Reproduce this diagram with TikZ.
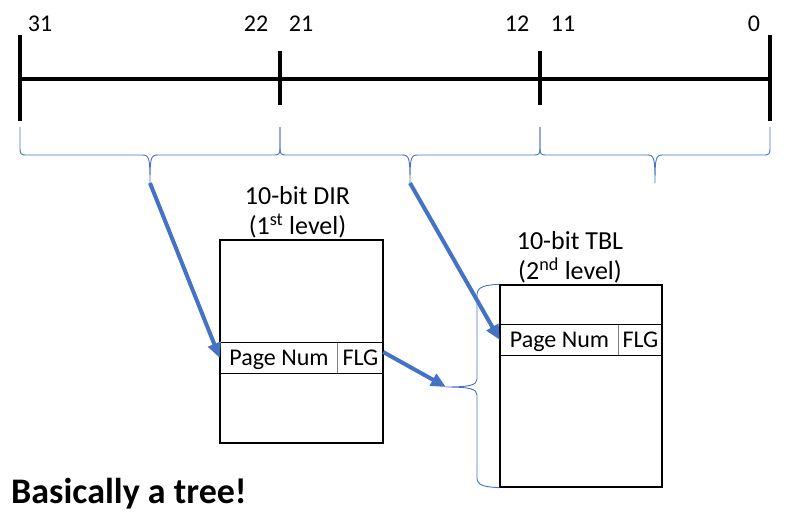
\documentclass[tikz,border=0pt]{standalone}
\usepackage{fontspec}
\setmainfont{Carlito}
\usepackage{xcolor}
\usepackage{tikz}
\usetikzlibrary{calc,arrows.meta}
\definecolor{ink}{HTML}{000000}
\definecolor{blue}{HTML}{4472C4}
\definecolor{grid}{HTML}{7F7F7F}
\tikzset{
  axis/.style={draw=ink, line width=3.5pt},
  brace/.style={draw=blue, line width=0.9pt, line join=round},
  ptr/.style={draw=blue, line width=4pt, -{Triangle[length=15pt,width=13pt]}},
  frame/.style={draw=ink, line width=1.3pt, inner sep=0pt},
  divider/.style={draw=grid, line width=1.3pt},
  cell/.style={inner sep=0pt, minimum height=30pt, text height=15pt, text depth=0pt, font=\fontsize{24}{27}\selectfont},
  bit/.style={anchor=base, inner sep=0pt, font=\fontsize{24}{27}\selectfont},
  title/.style={anchor=south, align=center, inner sep=0pt, font=\fontsize{26}{30}\selectfont},
}

\begin{document}
\begin{tikzpicture}[x=1pt,y=-1pt]
  \useasboundingbox (0,0) rectangle (787,512);
  % address bits
  \draw[axis] (20,79) -- (770,79);
  \draw[axis] (20,35) -- (20,121);
  \draw[axis] (770,35) -- (770,121);
  \draw[axis] (280,51) -- (280,105);
  \draw[axis] (540,51) -- (540,105);
  \node[bit] (b31) at (40,31) {31};
  \node[bit] (b22) at (256,31) {22};
  \node[bit] (b21) at (301,31) {21};
  \node[bit] (b12) at (517,31) {12};
  \node[bit] (b11) at (563,31) {11};
  \node[bit] (b0) at (754,31) {0};
  % braces under the fields
  \foreach \a/\m/\b in {20/150/280, 280/410/540, 540/655/770} {
    \coordinate (tip\m) at (\m,183);
    \draw[brace] (\a,127) -- (\a,145) .. controls (\a,155) and (\a,155) .. (\a+8,155)
      -- (\m-8,155) .. controls (\m-1,155) and (\m,157) .. (tip\m)
      .. controls (\m,157) and (\m+1,155) .. (\m+8,155)
      -- (\b-8,155) .. controls (\b,155) and (\b,155) .. (\b,145) -- (\b,127);
  }
  % 1st level
  \node[frame, minimum width=163pt, minimum height=203pt] (dir) at (301.5,341.5) {};
  \node[title] (dirlab) at (297.5,238) {10-bit DIR\\(1\textsuperscript{st} level)};
  \node[cell, minimum width=118pt] (dirpn) at (279,358) {Page Num};
  \node[cell, minimum width=45pt] (dirflg) at (360.5,358) {FLG};
  \draw[frame] (dirpn.north west) -- (dirflg.north east);
  \draw[frame] (dirpn.south west) -- (dirflg.south east);
  \draw[divider] (dirflg.north west) -- (dirflg.south west);
  % 2nd level
  \node[frame, minimum width=162pt, minimum height=202pt] (tbl) at (581,386) {};
  \node[title] (tbllab) at (570,283) {10-bit TBL\\(2\textsuperscript{nd} level)};
  \node[cell, minimum width=119pt] (tblpn) at (559.5,340) {Page Num};
  \node[cell, minimum width=43pt] (tblflg) at (640.5,340) {FLG};
  \draw[frame] (tblpn.north west) -- (tblflg.north east);
  \draw[frame] (tblpn.south west) -- (tblflg.south east);
  \draw[divider] (tblflg.north west) -- (tblflg.south west);
  \coordinate (tbltip) at (446,387);
  \draw[brace] (tbl.north west) .. controls (486,285) and (477,286) .. (477,295) -- (477,379)
    .. controls (477,385) and (470,387) .. (tbltip)
    .. controls (470,387) and (477,389) .. (477,395) -- (477,478)
    .. controls (477,486) and (486,487) .. (tbl.south west);
  % pointers
  \draw[ptr] (tip150) -- (dirpn.west);
  \draw[ptr] (tip410) -- (tblpn.west);
  \draw[ptr] ([yshift=6pt]dirflg.east) -- (tbltip);
  \node[anchor=base west, inner sep=0pt, font=\fontsize{36}{40}\selectfont\bfseries] (note) at (11,503) {Basically a tree!};
\end{tikzpicture}
\end{document}
